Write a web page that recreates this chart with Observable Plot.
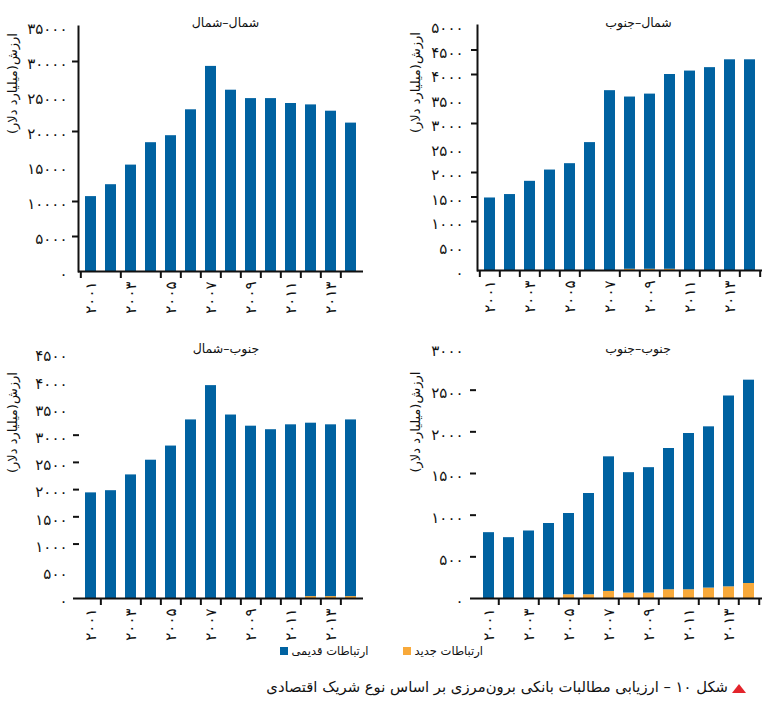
<!DOCTYPE html>
<html>
<head>
<meta charset="utf-8">
<script src="https://cdn.jsdelivr.net/npm/d3@7"></script>
<script src="https://cdn.jsdelivr.net/npm/@observablehq/plot@0.6"></script>
<style>
  html, body { margin: 0; padding: 0; background: #fff; }
  #fig { position: relative; width: 777px; height: 701px; background: #fff; font-family: "DejaVu Sans", sans-serif; overflow: hidden; }
  .panel { position: absolute; }
  #legend { position: absolute; right: 294px; top: 644px; display: flex; flex-direction: row; direction: rtl; align-items: center; font-size: 11.5px; color: #111; white-space: nowrap; }
  .sw { width: 8px; height: 8px; display: inline-block; }
  #caption { position: absolute; right: 49px; top: 678px; font-size: 14.8px; color: #111; direction: rtl; white-space: nowrap; }
  #tri { position: absolute; left: 732px; top: 684px; width: 0; height: 0; border-left: 7px solid transparent; border-right: 7px solid transparent; border-bottom: 9px solid #e3242b; }
</style>
</head>
<body>
<div id="fig"></div>
<script>
// ---- data ----
const years = ["۲۰۰۱","۲۰۰۲","۲۰۰۳","۲۰۰۴","۲۰۰۵","۲۰۰۶","۲۰۰۷","۲۰۰۸","۲۰۰۹","۲۰۱۰","۲۰۱۱","۲۰۱۲","۲۰۱۳","۲۰۱۴"];
const labeledYears = ["۲۰۰۱","۲۰۰۳","۲۰۰۵","۲۰۰۷","۲۰۰۹","۲۰۱۱","۲۰۱۳"];
const seriesOld = "ارتباطات قدیمی";
const seriesNew = "ارتباطات جدید";
const yAxisTitle = "ارزش(میلیارد دلار)\u200F";

const titleNN = "شمال–شمال";
const titleNS = "شمال–جنوب";
const titleSN = "جنوب–شمال";
const titleSS = "جنوب–جنوب";

const nnOld = [10700,12400,15200,18400,19400,23100,29300,25900,24700,24700,24000,23800,22900,21200];
const nnNew = [0,0,0,0,0,0,0,0,0,0,0,0,0,0];
const nsOld = [1480,1550,1820,2050,2180,2610,3670,3515,3575,3975,4070,4140,4300,4300];
const nsNew = [0,0,0,0,0,0,0,25,25,25,0,0,0,0];
const snOld = [1940,1980,2270,2540,2800,3280,3910,3370,3165,3100,3190,3185,3155,3245];
const snNew = [0,0,0,0,0,0,0,0,0,0,0,35,35,35];
const ssOld = [790,730,810,900,975,1215,1615,1445,1505,1695,1875,1935,2290,2440];
const ssNew = [0,0,0,0,45,45,85,65,65,105,105,125,140,180];

const nnTicks = [0,5000,10000,15000,20000,25000,30000,35000];
const nsTicks = [0,500,1000,1500,2000,2500,3000,3500,4000,4500,5000];
const snTicks = [0,500,1000,1500,2000,2500,3000,3500,4000,4500];
const ssTicks = [0,500,1000,1500,2000,2500,3000];

const nnTickMarks = [5000,10000,20000,30000];
const nsTickMarks = [1000,1500,2000,3000,4000,4500];
const snTickMarks = [1000,1500,2000,2500,3000];
const ssTickMarks = [500,1000,1500,2000,2500];

// years whose left band edge carries a tick mark on the x axis
const nnXTicks = ["۲۰۰۱","۲۰۰۳","۲۰۰۵","۲۰۰۶","۲۰۰۷","۲۰۰۸","۲۰۰۹","۲۰۱۰","۲۰۱۱","۲۰۱۲","۲۰۱۳","۲۰۱۴"];
const nsXTicks = ["۲۰۰۱","۲۰۰۲","۲۰۰۳","۲۰۰۴","۲۰۰۵","۲۰۰۶","۲۰۰۸","۲۰۰۹","۲۰۱۰","۲۰۱۱","۲۰۱۲","۲۰۱۳","۲۰۱۴"];
const snXTicks = ["۲۰۰۲","۲۰۰۴","۲۰۰۵","۲۰۰۶","۲۰۰۷","۲۰۰۸","۲۰۰۹","۲۰۱۰","۲۰۱۱","۲۰۱۲","۲۰۱۳","۲۰۱۴"];
const ssXTicks = ["۲۰۰۲","۲۰۰۴","۲۰۰۵","۲۰۰۶","۲۰۰۸","۲۰۰۹","۲۰۱۰","۲۰۱۲","۲۰۱۳","۲۰۱۴"];

const BLUE = "#0062a1";
const ORANGE = "#f8a93a";
const INK = "#111";

const faDigits = "۰۱۲۳۴۵۶۷۸۹";
const toFa = v => String(v).replace(/\d/g, d => faDigits[d]);

function panel(o) {
  const data = years.flatMap((y, i) => [
    {year: y, series: seriesNew, value: o.newVals[i]},
    {year: y, series: seriesOld, value: o.oldVals[i]}
  ]);
  const step = (o.width - o.ml - o.mr) / years.length;
  const marks = [
    Plot.barY(data, {x: "year", y: "value", fill: "series", order: [seriesNew, seriesOld]}),
    Plot.ruleY([0], {stroke: INK, strokeWidth: 2, insetLeft: o.baseInset || 0}),
    Plot.axisY(o.yTicks, {tickSize: 0, tickPadding: o.tickPad, tickFormat: toFa, dy: 3, fontSize: 15, label: null, fill: INK}),
    Plot.axisY(o.yTickMarks, {tickSize: 6, tickFormat: () => "", strokeWidth: 2, stroke: INK, label: null}),
    Plot.axisX(labeledYears, {tickSize: 0, tickPadding: 10, tickRotate: -90, fontSize: 15, label: null, fill: INK}),
    Plot.axisX(o.xTicks, {tickSize: 7, tickFormat: () => "", dx: -step / 2, strokeWidth: 2, stroke: INK, label: null}),
    Plot.text([o.title], {frameAnchor: "top", dx: o.titleDx, dy: o.titleDy, lineAnchor: "middle", fontSize: 12.5, fill: INK}),
    Plot.text([yAxisTitle], {frameAnchor: "left", rotate: -90, dx: o.ylabDx, dy: o.ylabDy, fontSize: 13, fill: INK})
  ];
  if (o.endTick) marks.push(Plot.axisX([years[years.length - 1]], {tickSize: 7, tickFormat: () => "", dx: step / 2, strokeWidth: 2, stroke: INK, label: null}));
  if (o.yLine) marks.push(Plot.frame({anchor: "left", stroke: INK, strokeWidth: 2}));
  const chart = Plot.plot({
    width: o.width, height: o.height,
    marginLeft: o.ml, marginRight: o.mr, marginTop: o.mt, marginBottom: o.mb,
    style: {fontFamily: "DejaVu Sans", fontSize: "13px", background: "transparent", overflow: "visible"},
    x: {type: "band", domain: years, paddingInner: 0.44, paddingOuter: 0.22, label: null},
    y: {domain: [0, o.yMax], label: null},
    color: {domain: [seriesOld, seriesNew], range: [BLUE, ORANGE]},
    marks
  });
  const wrap = document.createElement("div");
  wrap.className = "panel";
  wrap.style.left = o.left + "px";
  wrap.style.top = o.top + "px";
  wrap.appendChild(chart);
  document.getElementById("fig").appendChild(wrap);
}

panel({left: 0, top: 0, width: 390, height: 330, ml: 78, mr: 27, mt: 26, mb: 59, yMax: 35000,
  oldVals: nnOld, newVals: nnNew, yTicks: nnTicks, yTickMarks: nnTickMarks, xTicks: nnXTicks, endTick: false,
  tickPad: 11, yLine: true, title: titleNN, titleDx: 4.5, titleDy: -4, ylabDx: -66, ylabDy: -15});

panel({left: 390, top: 0, width: 387, height: 330, ml: 87, mr: 15, mt: 25, mb: 60, yMax: 5000,
  oldVals: nsOld, newVals: nsNew, yTicks: nsTicks, yTickMarks: nsTickMarks, xTicks: nsXTicks, endTick: true,
  tickPad: 14, yLine: true, title: titleNS, titleDx: 18.5, titleDy: -3, ylabDx: -62, ylabDy: -15});

panel({left: 0, top: 330, width: 390, height: 310, ml: 79, mr: 27, mt: 23, mb: 42, yMax: 4500,
  oldVals: snOld, newVals: snNew, yTicks: snTicks, yTickMarks: snTickMarks, xTicks: snXTicks, endTick: false,
  tickPad: 12, yLine: false, baseInset: -6, title: titleSN, titleDx: 4.5, titleDy: -5, ylabDx: -67, ylabDy: -3});

panel({left: 390, top: 330, width: 387, height: 310, ml: 86, mr: 15, mt: 18, mb: 42, yMax: 3000,
  oldVals: ssOld, newVals: ssNew, yTicks: ssTicks, yTickMarks: ssTickMarks, xTicks: ssXTicks, endTick: true,
  tickPad: 13, yLine: false, baseInset: -6, title: titleSS, titleDx: 18.5, titleDy: 0, ylabDx: -61, ylabDy: -1});

// ---- legend & caption ----
const fig = document.getElementById("fig");
const legend = document.createElement("div");
legend.id = "legend";
function legendItem(name, color, gapAfter) {
  const t = document.createElement("span");
  t.textContent = name;
  t.style.marginLeft = "4px";
  const s = document.createElement("span");
  s.className = "sw";
  s.style.background = color;
  s.style.marginLeft = gapAfter + "px";
  legend.appendChild(t);
  legend.appendChild(s);
}
legendItem(seriesNew, ORANGE, 34);
legendItem(seriesOld, BLUE, 0);
fig.appendChild(legend);

const cap = document.createElement("div");
cap.id = "caption";
cap.textContent = "شکل ۱۰ – ارزیابی مطالبات بانکی برون‌مرزی بر اساس نوع شریک اقتصادی";
fig.appendChild(cap);
const tri = document.createElement("div");
tri.id = "tri";
fig.appendChild(tri);
</script>
</body>
</html>
